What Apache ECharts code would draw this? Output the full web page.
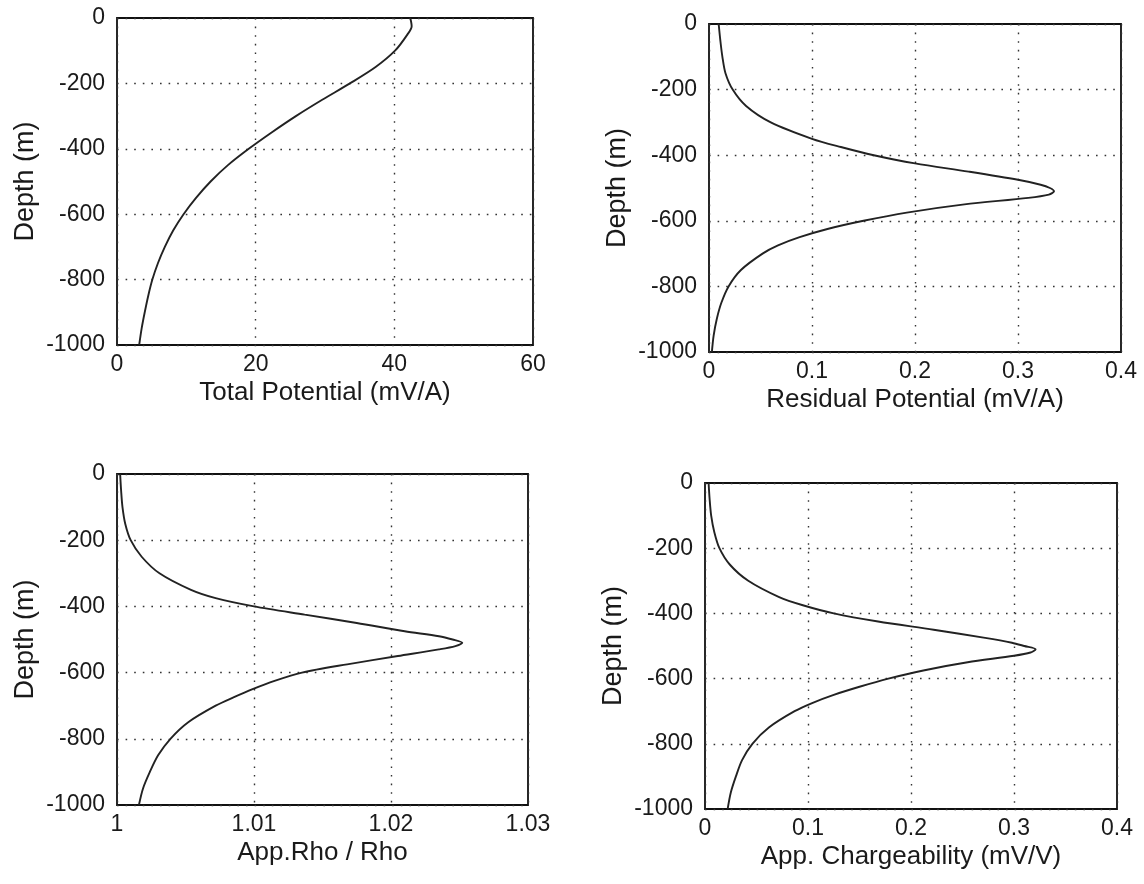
<!DOCTYPE html>
<html>
<head>
<meta charset="utf-8">
<script src="https://cdn.jsdelivr.net/npm/echarts@6/dist/echarts.min.js"></script>
<style>
html,body{margin:0;padding:0;background:#fff;}
#c{width:1144px;height:884px;}
</style>
</head>
<body>
<div id="c"></div>
<script>
// Depth samples (m)
const depthTotal = [0,-25,-50,-100,-150,-200,-250,-300,-350,-400,-450,-500,-550,-600,-650,-700,-750,-800,-850,-900,-950,-1000];
const totalPotential = [42.3,42.5,41.9,40.1,37.3,33.6,29.6,25.8,22.3,19.0,16.0,13.5,11.4,9.6,8.1,6.9,5.9,5.1,4.5,4.0,3.55,3.2];

const depthPeak = [0,-50,-100,-150,-200,-250,-300,-350,-375,-400,-425,-450,-475,-490,-500,-510,-520,-530,-550,-575,-600,-625,-650,-675,-700,-750,-800,-850,-900,-950,-1000];
const residualPotential = [0.0094,0.011,0.013,0.016,0.023,0.036,0.060,0.100,0.128,0.160,0.200,0.252,0.300,0.322,0.331,0.335,0.330,0.310,0.248,0.192,0.150,0.115,0.088,0.067,0.052,0.031,0.019,0.012,0.0075,0.0045,0.0028];
const appRho = [1.00023,1.0003,1.0004,1.0006,1.0010,1.0018,1.0031,1.0054,1.0072,1.0100,1.0137,1.0175,1.0210,1.0235,1.0245,1.0252,1.0247,1.0235,1.0205,1.0168,1.0135,1.0115,1.0099,1.0085,1.0072,1.0052,1.0039,1.0030,1.0024,1.0019,1.0016];
const appCharge = [0.0035,0.0045,0.006,0.009,0.014,0.024,0.042,0.072,0.095,0.125,0.168,0.222,0.272,0.298,0.310,0.321,0.316,0.300,0.255,0.212,0.178,0.150,0.125,0.104,0.087,0.062,0.046,0.036,0.030,0.025,0.022];

const xNames = ['Total Potential (mV/A)','Residual Potential (mV/A)','App.Rho / Rho','App. Chargeability (mV/V)'];
const yName = 'Depth (m)';

const grids = [
  {left:117, top:18, width:416, height:327},
  {left:709, top:24, width:412, height:328},
  {left:117, top:474, width:411, height:331},
  {left:705, top:483, width:412, height:326}
];
const xRanges = [
  {min:0, max:60, interval:20},
  {min:0, max:0.4, interval:0.1},
  {min:1, max:1.03, interval:0.01},
  {min:0, max:0.4, interval:0.1}
];
const seriesData = [
  depthTotal.map((d,i)=>[totalPotential[i], d]),
  depthPeak.map((d,i)=>[residualPotential[i], d]),
  depthPeak.map((d,i)=>[appRho[i], d]),
  depthPeak.map((d,i)=>[appCharge[i], d])
];

const font = 'Liberation Sans, Arial, Helvetica, sans-serif';
const txt = '#1a1a1a';
const gridLine = {show:true, lineStyle:{color:'#333', width:1.4, type:[1.6,7]}};

const option = {
  backgroundColor:'#fff',
  animation:false,
  grid: grids.map(g=>Object.assign({show:true, borderColor:'#111', borderWidth:1.8, backgroundColor:'transparent'}, g)),
  xAxis: xRanges.map((r,i)=>({
    type:'value', gridIndex:i, min:r.min, max:r.max, interval:r.interval,
    name:xNames[i], nameLocation:'middle', nameGap:35,
    nameTextStyle:{fontFamily:font, fontSize:26, color:txt},
    axisLine:{show:false}, axisTick:{show:false},
    axisLabel:{fontFamily:font, fontSize:23, color:txt, margin:8,
      formatter:v=>String(+v.toFixed(4))},
    splitLine:gridLine
  })),
  yAxis: grids.map((g,i)=>({
    type:'value', gridIndex:i, min:-1000, max:0, interval:200,
    name:yName, nameLocation:'middle', nameGap:78,
    nameTextStyle:{fontFamily:font, fontSize:27, color:txt},
    axisLine:{show:false}, axisTick:{show:false},
    axisLabel:{fontFamily:font, fontSize:23, color:txt, margin:12,
      formatter:v=>String(v)},
    splitLine:gridLine
  })),
  series: seriesData.map((d,i)=>({
    type:'line', xAxisIndex:i, yAxisIndex:i, data:d,
    showSymbol:false, smooth:0.3,
    lineStyle:{color:'#222', width:1.9}
  }))
};
echarts.init(document.getElementById('c')).setOption(option);
</script>
</body>
</html>
